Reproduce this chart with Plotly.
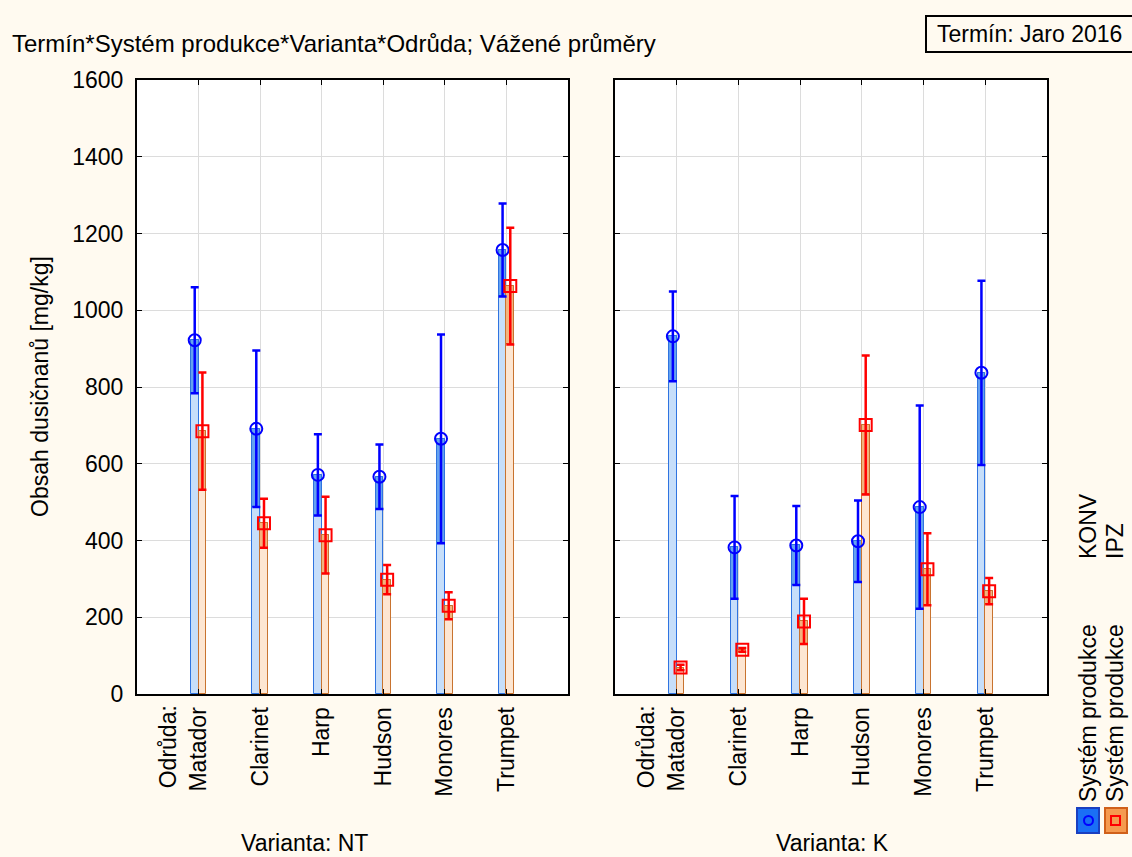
import plotly.graph_objects as go

# ---------------- data ----------------
varieties = ["Matador", "Clarinet", "Harp", "Hudson", "Monores", "Trumpet"]
panels = ["NT", "K"]

nt_konv_mean = [922, 691, 571, 566, 665, 1157]
nt_konv_err = [138, 204, 106, 84, 272, 121]
nt_ipz_mean = [685, 445, 414, 298, 230, 1063]
nt_ipz_err = [153, 64, 100, 38, 35, 152]

k_konv_mean = [932, 382, 387, 398, 487, 837]
k_konv_err = [117, 134, 103, 106, 265, 240]
k_ipz_mean = [69, 115, 189, 701, 325, 268]
k_ipz_err = [7, 5, 59, 181, 94, 34]

y_ticks = [0, 200, 400, 600, 800, 1000, 1200, 1400, 1600]

W, H = 1132, 857
FONT = "Liberation Sans, Arial, sans-serif"
FS = 23
BG = "#fffaf0"


def xp(px):
    return px / W


def yp(py):
    return 1 - py / H


BW = 0.125  # bar width in category units
idx = list(range(len(varieties)))

series = {
    "NT": [(nt_konv_mean, nt_konv_err), (nt_ipz_mean, nt_ipz_err)],
    "K": [(k_konv_mean, k_konv_err), (k_ipz_mean, k_ipz_err)],
}

styles = [
    dict(light="#c6defa", mid="#64a2f0", edge="#2f74e0", col="#0000ff", sym="circle-open", off=-BW),
    dict(light="#fde6d2", mid="#f3b27e", edge="#c8732f", col="#ff0000", sym="square-open", off=0.0),
]

fig = go.Figure()

for p, pan in enumerate(panels):
    xa = "x" if p == 0 else "x2"
    ya = "y" if p == 0 else "y2"
    for (mean, err), st in zip(series[pan], styles):
        fig.add_trace(go.Bar(
            x=idx, y=mean, width=BW, offset=st["off"],
            marker=dict(color=st["light"], line=dict(color=st["edge"], width=1)),
            xaxis=xa, yaxis=ya, showlegend=False, hoverinfo="skip"))
        lower = [m - e for m, e in zip(mean, err)]
        fig.add_trace(go.Bar(
            x=idx, y=err, base=lower, width=BW, offset=st["off"],
            marker=dict(color=st["mid"], line=dict(color=st["edge"], width=1)),
            xaxis=xa, yaxis=ya, showlegend=False, hoverinfo="skip"))
    for (mean, err), st in zip(series[pan], styles):
        xs = [i + st["off"] + BW / 2 for i in idx]
        fig.add_trace(go.Scatter(
            x=xs, y=mean, mode="markers",
            marker=dict(symbol=st["sym"], size=12, color=st["col"], line=dict(width=2, color=st["col"])),
            error_y=dict(type="data", array=err, visible=True, color=st["col"], thickness=2.5, width=4),
            xaxis=xa, yaxis=ya, showlegend=False))

axis_common = dict(
    showline=True, linecolor="black", linewidth=2, mirror="ticks",
    showgrid=True, gridcolor="#dcdcdc", gridwidth=1,
    ticks="inside", ticklen=5, tickcolor="black", tickwidth=1,
    zeroline=False, automargin=False,
    tickfont=dict(family=FONT, size=FS, color="black"),
)

xdom1 = [xp(137), xp(568)]
xdom2 = [xp(615), xp(1047)]
ydom = [yp(694), yp(80)]

fig.update_layout(
    width=W, height=H, autosize=False,
    margin=dict(l=0, r=0, t=0, b=0),
    paper_bgcolor=BG, plot_bgcolor="white",
    barmode="overlay", bargap=0,
    font=dict(family=FONT, size=FS, color="black"),
    xaxis=dict(domain=xdom1, range=[-1, 6], tickvals=idx, ticktext=varieties,
               tickangle=-90, ticklabelstandoff=2, anchor="y", **axis_common),
    xaxis2=dict(domain=xdom2, range=[-1, 6], tickvals=idx, ticktext=varieties,
                tickangle=-90, ticklabelstandoff=2, anchor="y2", **axis_common),
    yaxis=dict(domain=ydom, range=[0, 1600], tickvals=y_ticks, anchor="x",
               ticklabelstandoff=7, **axis_common),
    yaxis2=dict(domain=ydom, range=[0, 1600], tickvals=y_ticks, anchor="x2",
                showticklabels=False, **axis_common),
)

ann = []
ann.append(dict(text="Termín*Systém produkce*Varianta*Odrůda; Vážené průměry",
                x=xp(10), y=yp(43), xref="paper", yref="paper", xanchor="left", yanchor="middle",
                showarrow=False, font=dict(size=24)))
ann.append(dict(text="Termín: Jaro 2016", x=xp(935), y=yp(34), xref="paper", yref="paper",
                xanchor="left", yanchor="middle", showarrow=False, font=dict(size=FS)))
ann.append(dict(text="Obsah dusičnanů [mg/kg]", x=xp(40), y=yp(387), xref="paper", yref="paper",
                xanchor="center", yanchor="middle", textangle=-90, showarrow=False, font=dict(size=FS)))
for xa in ["x", "x2"]:
    ann.append(dict(text="Odrůda:", x=-0.5, xref=xa, y=yp(703), yref="paper",
                    xanchor="center", yanchor="top", textangle=-90, showarrow=False, font=dict(size=FS)))
ann.append(dict(text="Varianta: NT", x=xp(304), y=yp(843), xref="paper", yref="paper",
                xanchor="center", yanchor="middle", showarrow=False, font=dict(size=FS)))
ann.append(dict(text="Varianta: K", x=xp(832), y=yp(843), xref="paper", yref="paper",
                xanchor="center", yanchor="middle", showarrow=False, font=dict(size=FS)))
for cx, name in [(1088, "KONV"), (1115, "IPZ")]:
    ann.append(dict(text="Systém produkce", x=xp(cx), y=yp(804), xref="paper", yref="paper",
                    xanchor="center", yanchor="bottom", textangle=-90, showarrow=False, font=dict(size=FS)))
    ann.append(dict(text=name, x=xp(cx), y=yp(561), xref="paper", yref="paper",
                    xanchor="center", yanchor="bottom", textangle=-90, showarrow=False, font=dict(size=FS)))

fig.update_layout(annotations=ann)

shapes = []
shapes.append(dict(type="rect", xref="paper", yref="paper", x0=xp(926), x1=xp(1140), y0=yp(52), y1=yp(16),
                   line=dict(color="black", width=2), fillcolor="rgba(0,0,0,0)"))
shapes.append(dict(type="rect", xref="paper", yref="paper", x0=xp(1077), x1=xp(1099), y0=yp(833), y1=yp(808),
                   line=dict(color="#1a3fc0", width=2), fillcolor="#1a6ff5"))
shapes.append(dict(type="circle", xref="paper", yref="paper", x0=xp(1084), x1=xp(1093), y0=yp(825), y1=yp(816),
                   line=dict(color="#0000ff", width=2), fillcolor="rgba(0,0,0,0)"))
shapes.append(dict(type="rect", xref="paper", yref="paper", x0=xp(1105), x1=xp(1127), y0=yp(833), y1=yp(808),
                   line=dict(color="#d0601a", width=2), fillcolor="#f59a4f"))
shapes.append(dict(type="rect", xref="paper", yref="paper", x0=xp(1111), x1=xp(1120), y0=yp(825), y1=yp(816),
                   line=dict(color="#ff0000", width=2), fillcolor="rgba(0,0,0,0)"))
fig.update_layout(shapes=shapes)

fig.write_html(
    "out.html",
    config={"displayModeBar": False},
    post_script="document.body.style.margin='0';document.body.style.overflow='hidden';"
                "document.body.style.background='" + BG + "';",
)
